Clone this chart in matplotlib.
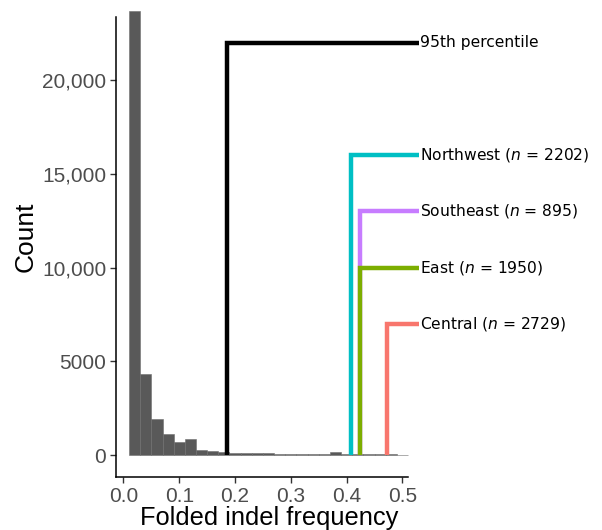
import matplotlib

matplotlib.use("Agg")
import matplotlib.pyplot as plt
import numpy as np

# histogram of folded indel frequency, binwidth 0.02 starting at 0.01
bin_edges = np.round(np.arange(0.01, 0.5101, 0.02), 3)
counts = [23700, 4300, 1900, 1130, 700, 870, 270, 220, 170, 130, 110, 100,
          90, 80, 70, 60, 50, 40, 150, 40, 30, 30, 40, 50, 20]

# step markers: (label, x position, height, colour)
marker_labels = ["95th percentile", "Northwest", "Southeast", "East", "Central"]
marker_n = [None, 2202, 895, 1950, 2729]
marker_x = [0.185, 0.408, 0.424, 0.424, 0.472]
marker_y = [22000, 16000, 13000, 10000, 7000]
marker_colors = ["black", "#00BFC4", "#C77CFF", "#7CAE00", "#F8766D"]

yticks = [0, 5000, 10000, 15000, 20000]
ytick_labels = ["0", "5000", "10,000", "15,000", "20,000"]
xticks = [0.0, 0.1, 0.2, 0.3, 0.4, 0.5]

LINE_END = 0.53

fig = plt.figure(figsize=(6.02, 5.30), dpi=100)
ax = fig.add_axes([116 / 602, 53 / 530, 292 / 602, 460 / 530])

left = bin_edges[:-1]
width = np.diff(bin_edges)
ax.bar(left, counts, width=width, align="edge", color="#595959",
       edgecolor="#6e6e6e", linewidth=0.4, clip_on=False, zorder=2)

for lab, n, x, y, c in zip(marker_labels, marker_n, marker_x, marker_y, marker_colors):
    ax.plot([x, x, LINE_END], [0, y, y], color=c, lw=3.2, solid_joinstyle="miter",
            solid_capstyle="butt", clip_on=False, zorder=3)
    text = lab if n is None else f"{lab} ($\\mathit{{n}}$ = {n})"
    ax.text(LINE_END + 0.002, y, text, va="center", ha="left", fontsize=11.2,
            family="DejaVu Sans", color="black", clip_on=False)

ax.set_xlim(-0.0134, 0.51)
ax.set_ylim(-1173, 23360)
ax.set_xticks(xticks)
ax.set_xticklabels([f"{t:.1f}" for t in xticks])
ax.set_yticks(yticks)
ax.set_yticklabels(ytick_labels)

for s in ("top", "right"):
    ax.spines[s].set_visible(False)
for s in ("left", "bottom"):
    ax.spines[s].set_linewidth(1.1)
    ax.spines[s].set_color("black")

ax.tick_params(direction="out", length=4, width=1, color="#333333",
               labelsize=15, labelcolor="#4D4D4D", pad=3)
for t in ax.get_xticklabels() + ax.get_yticklabels():
    t.set_family("Liberation Sans")

ax.set_xlabel("Folded indel frequency", fontsize=18.3, family="Liberation Sans")
ax.set_ylabel("Count", fontsize=19, family="Liberation Sans")
ax.xaxis.set_label_coords(0.524, -0.063)
ax.yaxis.set_label_coords(-0.268, 0.522)

fig.savefig("out.png", dpi=100)
